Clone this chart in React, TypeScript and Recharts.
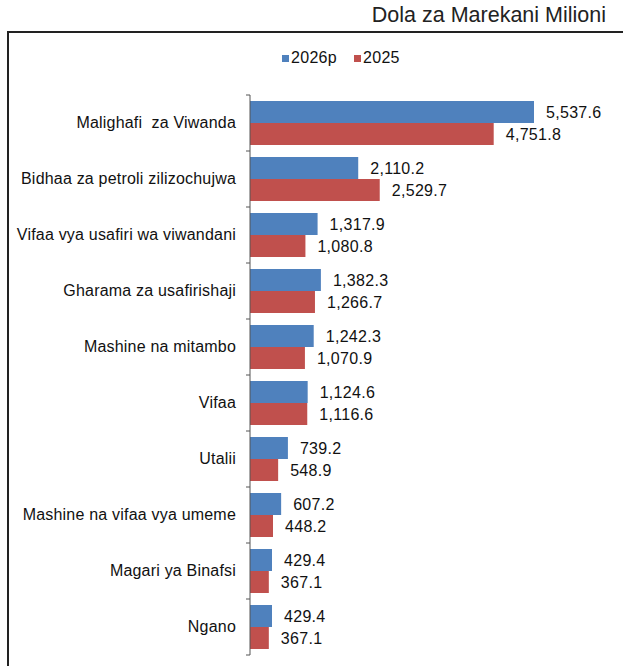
import { BarChart, Bar, XAxis, YAxis, Legend, LabelList } from 'recharts';

const categories = [
  'Malighafi  za Viwanda',
  'Bidhaa za petroli zilizochujwa',
  'Vifaa vya usafiri wa viwandani',
  'Gharama za usafirishaji',
  'Mashine na mitambo',
  'Vifaa',
  'Utalii',
  'Mashine na vifaa vya umeme',
  'Magari ya Binafsi',
  'Ngano',
];
const values2026p = [5537.6, 2110.2, 1317.9, 1382.3, 1242.3, 1124.6, 739.2, 607.2, 429.4, 429.4];
const values2025 = [4751.8, 2529.7, 1080.8, 1266.7, 1070.9, 1116.6, 548.9, 448.2, 367.1, 367.1];
const seriesNames = ['2026p', '2025'];
const seriesColors = ['#4F81BD', '#C0504D'];

const data = categories.map((name, i) => ({
  name,
  v2026p: values2026p[i],
  v2025: values2025[i],
}));

const FONT = '"Liberation Sans", Arial, Helvetica, sans-serif';
const W = 623;
const H = 666;
const LEGEND_H = 20;
// legend sits in the top offset, so plot top = MARGIN.top + LEGEND_H = 95
const MARGIN = { top: 75, right: 14, bottom: 11, left: 8 };
const BAND_HALF = (H - MARGIN.top - LEGEND_H - MARGIN.bottom) / categories.length / 2;

const fmt = (v: number) =>
  v.toLocaleString('en-US', { minimumFractionDigits: 1, maximumFractionDigits: 1 });

function CategoryTick(props: any) {
  const { x, y, payload, index } = props;
  const ax = x + 14;
  const last = index === categories.length - 1;
  return (
    <g>
      <text
        x={x}
        y={y}
        dy={5}
        textAnchor="end"
        fontSize={16}
        letterSpacing={0.2}
        fill="#111"
        style={{ whiteSpace: 'pre' }}
      >
        {payload.value}
      </text>
      <line x1={ax - 4} x2={ax} y1={y - BAND_HALF} y2={y - BAND_HALF} stroke="#555" />
      {last && <line x1={ax - 4} x2={ax} y1={y + BAND_HALF} y2={y + BAND_HALF} stroke="#555" />}
    </g>
  );
}

function LegendContent() {
  return (
    <div style={{ display: 'flex', alignItems: 'center', fontSize: 16, letterSpacing: 0.3, color: '#111', fontFamily: FONT }}>
      {seriesNames.map((n, i) => (
        <div key={n} style={{ display: 'flex', alignItems: 'center', marginRight: 17 }}>
          <span style={{ width: 7, height: 7, background: seriesColors[i], marginRight: 2, display: 'inline-block' }} />
          <span>{n}</span>
        </div>
      ))}
    </div>
  );
}

const labelStyle = { fontSize: 16, letterSpacing: 0.3, fill: '#111', fontFamily: FONT };

export default function App() {
  return (
    <div style={{ position: 'fixed', left: 0, top: 0, width: W, height: H, background: '#fff', fontFamily: FONT, overflow: 'hidden' }}>
      <div
        style={{
          position: 'absolute',
          left: 7,
          top: 31,
          right: -4,
          bottom: -4,
          borderLeft: '2px solid #222',
          borderTop: '2px solid #222',
        }}
      />
      <div style={{ position: 'absolute', right: 17, top: 3, fontSize: 21.5, color: '#222' }}>
        Dola za Marekani Milioni
      </div>
      <div style={{ position: 'absolute', left: 0, top: 0 }}>
        <BarChart
          width={W}
          height={H}
          data={data}
          layout="vertical"
          margin={MARGIN}
          barCategoryGap={6}
          barGap={0}
        >
          <XAxis type="number" domain={[0, 7000]} hide />
          <YAxis
            type="category"
            dataKey="name"
            width={242}
            axisLine={{ stroke: '#555' }}
            tickLine={false}
            tickSize={0}
            tickMargin={14}
            tick={<CategoryTick />}
            interval={0}
          />
          <Legend
            verticalAlign="top"
            height={LEGEND_H}
            content={<LegendContent />}
            wrapperStyle={{ position: 'absolute', top: 49, left: 282, width: 'auto' }}
          />
          <Bar dataKey="v2026p" name="2026p" fill={seriesColors[0]} isAnimationActive={false}>
            <LabelList
              dataKey="v2026p"
              position="right"
              offset={12}
              formatter={(v: any) => fmt(Number(v))}
              style={labelStyle}
            />
          </Bar>
          <Bar dataKey="v2025" name="2025" fill={seriesColors[1]} isAnimationActive={false}>
            <LabelList
              dataKey="v2025"
              position="right"
              offset={12}
              formatter={(v: any) => fmt(Number(v))}
              style={labelStyle}
            />
          </Bar>
        </BarChart>
      </div>
    </div>
  );
}
